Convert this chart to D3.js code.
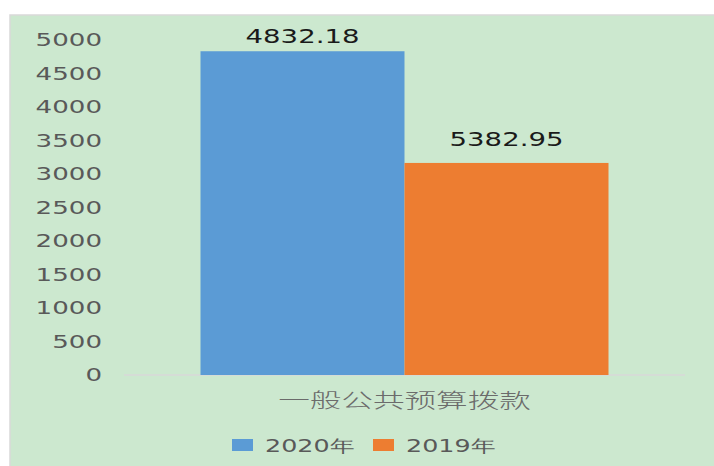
<!DOCTYPE html>
<html>
<head>
<meta charset="utf-8">
<script src="https://cdn.jsdelivr.net/npm/d3@7"></script>
<style>
body { margin: 0; background: #fff; }
svg { display: block; }
</style>
</head>
<body>
<svg width="714" height="466"></svg>
<script>
// data
var categories = ["一般公共预算拨款"];
var seriesNames = ["2020年", "2019年"];
var seriesValues = [4832.18, 3165];
var valueLabels = ["4832.18", "5382.95"];
var yTicks = [0, 500, 1000, 1500, 2000, 2500, 3000, 3500, 4000, 4500, 5000];
var colors = ["#5b9bd5", "#ed7d31"];

var stretch = 1.45;
var labelGap = [8, 17];
var svg = d3.select("svg");

// panel
svg.append("rect")
    .attr("x", 10).attr("y", 15)
    .attr("width", 714).attr("height", 460)
    .attr("fill", "#cce8cf")
    .attr("stroke", "#d9d9d9")
    .attr("stroke-width", 1.5);

// scales
var yScale = d3.scaleLinear().domain([0, 5000]).range([375, 40]);
var x0 = d3.scaleBand().domain(categories).range([124, 685]).paddingOuter(0.1875).paddingInner(0);
var x1 = d3.scaleBand().domain(seriesNames).range([0, x0.bandwidth()]).padding(0);

// y axis labels
var yAxisGroup = svg.append("g")
    .attr("transform", "translate(102,0)")
    .call(d3.axisLeft(yScale).tickValues(yTicks).tickFormat(d3.format("d")).tickSize(0).tickPadding(0));
yAxisGroup.select(".domain").remove();
yAxisGroup.selectAll("text")
    .attr("font-family", "DejaVu Sans")
    .attr("font-size", 18)
    .attr("fill", "#595959")
    .attr("transform", "scale(" + stretch + ",1)");

// baseline
svg.append("line")
    .attr("x1", 124).attr("x2", 685)
    .attr("y1", yScale(0)).attr("y2", yScale(0))
    .attr("stroke", "#d9d9d9").attr("stroke-width", 1.5);

// bars
var bars = seriesNames.map(function(s, i) {
    return {name: s, value: seriesValues[i], label: valueLabels[i], color: colors[i], gap: labelGap[i]};
});

var barGroup = svg.append("g")
    .attr("transform", "translate(" + x0(categories[0]) + ",0)");

barGroup.selectAll("rect")
    .data(bars)
    .enter()
    .append("rect")
    .attr("x", d => x1(d.name))
    .attr("y", d => yScale(d.value))
    .attr("width", x1.bandwidth())
    .attr("height", d => yScale(0) - yScale(d.value))
    .attr("fill", d => d.color);

barGroup.selectAll("text")
    .data(bars)
    .enter()
    .append("text")
    .text(d => d.label)
    .attr("text-anchor", "middle")
    .attr("font-family", "DejaVu Sans")
    .attr("font-size", 19)
    .attr("fill", "#1a1a1a")
    .attr("transform", d => "translate(" + (x1(d.name) + x1.bandwidth() / 2) + "," + (yScale(d.value) - d.gap) + ") scale(" + stretch + ",1)");

// category label
svg.append("text")
    .text(categories[0])
    .attr("text-anchor", "middle")
    .attr("font-family", "Noto Sans CJK SC")
    .attr("font-weight", 300)
    .attr("font-size", 20)
    .attr("fill", "#6b6b6b")
    .attr("transform", "translate(" + (x0(categories[0]) + x0.bandwidth() / 2) + ",408) scale(1.58,1)");

// legend
var legendX = [232, 373];
var legend = svg.selectAll(".legend")
    .data(bars)
    .enter()
    .append("g")
    .attr("class", "legend")
    .attr("transform", (d, i) => "translate(" + legendX[i] + ",439)");

legend.append("rect")
    .attr("width", 21).attr("height", 12)
    .attr("fill", d => d.color);

legend.append("text")
    .text(d => d.name)
    .attr("font-family", "DejaVu Sans")
    .attr("font-size", 17.5)
    .attr("fill", "#595959")
    .attr("transform", "translate(33,13) scale(" + stretch + ",1)");
</script>
</body>
</html>
